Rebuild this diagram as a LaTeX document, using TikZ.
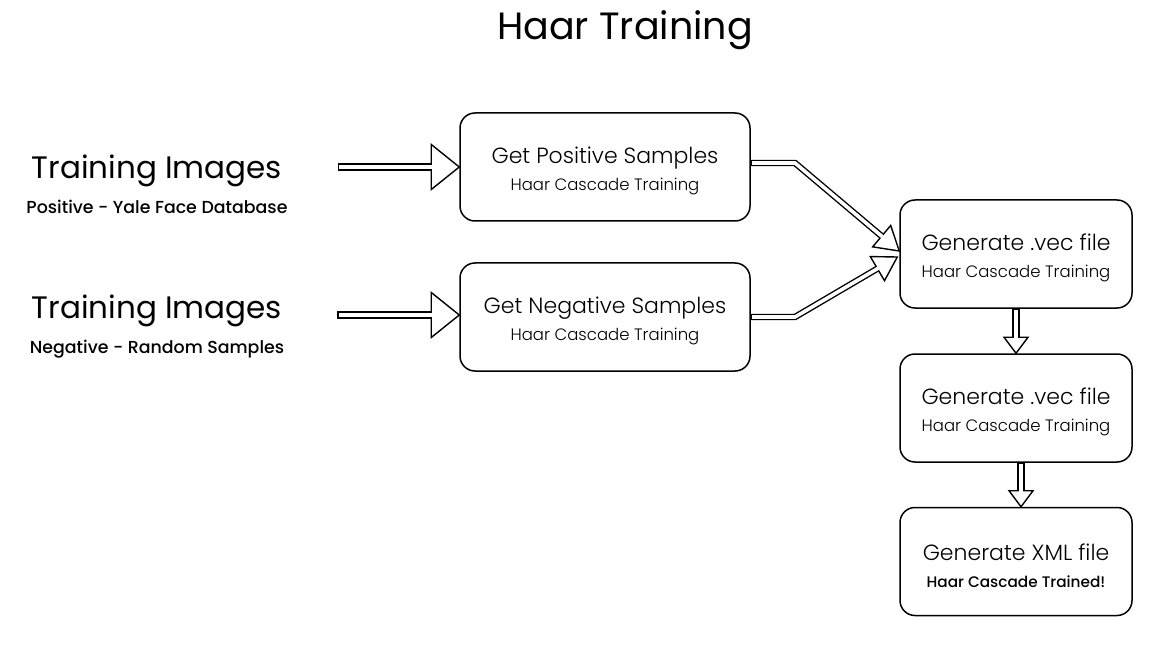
\documentclass[tikz,border=0pt]{standalone}
\usepackage{fontspec}
\setmainfont{Poppins}
\newfontfamily\lightfont{Poppins Light}
\newfontfamily\mediumfont{Poppins Medium}
\usetikzlibrary{calc}
\usetikzlibrary{positioning}

% hollow block arrow: tail, bend, tip, shaft half width, head half width, head length
\newcommand{\hollowarrow}[6]{%
  \pgfmathsetmacro{\outerw}{2*#4+1.4}
  \pgfmathsetmacro{\innerw}{2*#4-1.4}
  \pgfmathsetmacro{\innerh}{#6-1}
  \draw[line width=\outerw pt, line join=miter] (#1) -- (#2) -- ($(#3)!#6pt!(#2)$);
  \draw[fill=white, line width=1.4pt, line join=miter]
    ($(#3)!#6pt!(#2)!#5pt!90:(#3)$) -- (#3) -- ($(#3)!#6pt!(#2)!#5pt!-90:(#3)$) -- cycle;
  \draw[white, line width=\innerw pt, line join=miter]
    ($(#1)!1.4pt!(#2)$) -- (#2) -- ($(#3)!\innerh pt!(#2)$);
}
% stage text: heading and subline
\newcommand{\stagetext}[2]{\rule{0pt}{25pt}{\fontsize{22}{22}\selectfont #1}\\#2}

\tikzset{
  stage/.style={draw, line width=1.5pt, rounded corners=15pt, minimum width=290pt,
    minimum height=108pt, align=center, inner sep=0pt,
    font=\lightfont\fontsize{16.5}{27}\selectfont},
  vecstage/.style={stage, minimum width=232pt},
  sourcelabel/.style={align=center, inner sep=0pt, font=\mediumfont\fontsize{17.4}{35}\selectfont},
}

\begin{document}
\begin{tikzpicture}[x=1pt,y=-1pt]
\useasboundingbox (0,0) rectangle (1173,647);
\node[font=\fontsize{38}{40}\selectfont] (title) at (625,30) {Haar Training};
% sources
\node[sourcelabel] (trainpos) at (157,184) {{\rmfamily\fontsize{31}{31}\selectfont Training Images}\\Positive - Yale Face Database};
\node[sourcelabel] (trainneg) at (157,326.5) {{\rmfamily\fontsize{31}{31}\selectfont Training Images}\\Negative - Random Samples};
% stages
\node[stage] (pos) at (605,167) {\stagetext{Get Positive Samples}{Haar Cascade Training}};
\node[stage] (neg) at (605,317) {\stagetext{Get Negative Samples}{Haar Cascade Training}};
\node[vecstage] (vec) at (1016,254) {\stagetext{Generate .vec file}{Haar Cascade Training}};
\node[vecstage] (vectwo) at (1016,408) {\stagetext{Generate .vec file}{Haar Cascade Training}};
\node[vecstage] (xml) at (1016,561.5) {\stagetext{Generate XML file}{\mediumfont\fontsize{15.3}{27}\selectfont Haar Cascade Trained!}};
% arrow points
\coordinate (postail) at (338,167);
\coordinate (posmid) at ($(postail)!0.5!(pos.west)$);
\coordinate (negin) at ($(neg.west)+(0,-2)$);
\coordinate (negtail) at ($(negin)+(-122,0)$);
\coordinate (negmid) at ($(negtail)!0.5!(negin)$);
\coordinate (posout) at ($(pos.east)+(0,-4)$);
\coordinate (posbend) at (795,163);
\coordinate (negbend) at (795,317);
\coordinate (vecin) at ($(vec.west)+(0,-3)$);
\coordinate (vecinb) at ($(vec.west)+(-2,3)$);
\coordinate (vecmid) at ($(vec.south)!0.5!(vectwo.north)$);
\coordinate (xmltail) at ($(vectwo.south)+(5,0)$);
\coordinate (xmltip) at ($(xml.north)+(5,0)$);
\coordinate (xmlmid) at ($(xmltail)!0.5!(xmltip)$);
% arrows
\hollowarrow{postail}{posmid}{pos.west}{3}{22.5}{28}
\hollowarrow{negtail}{negmid}{negin}{3}{22.5}{28}
\hollowarrow{posout}{posbend}{vecin}{2.5}{14}{23}
\hollowarrow{neg.east}{negbend}{vecinb}{2.5}{14}{23}
\hollowarrow{vec.south}{vecmid}{vectwo.north}{3}{12}{16}
\hollowarrow{xmltail}{xmlmid}{xmltip}{3}{12}{16}
\end{tikzpicture}
\end{document}
